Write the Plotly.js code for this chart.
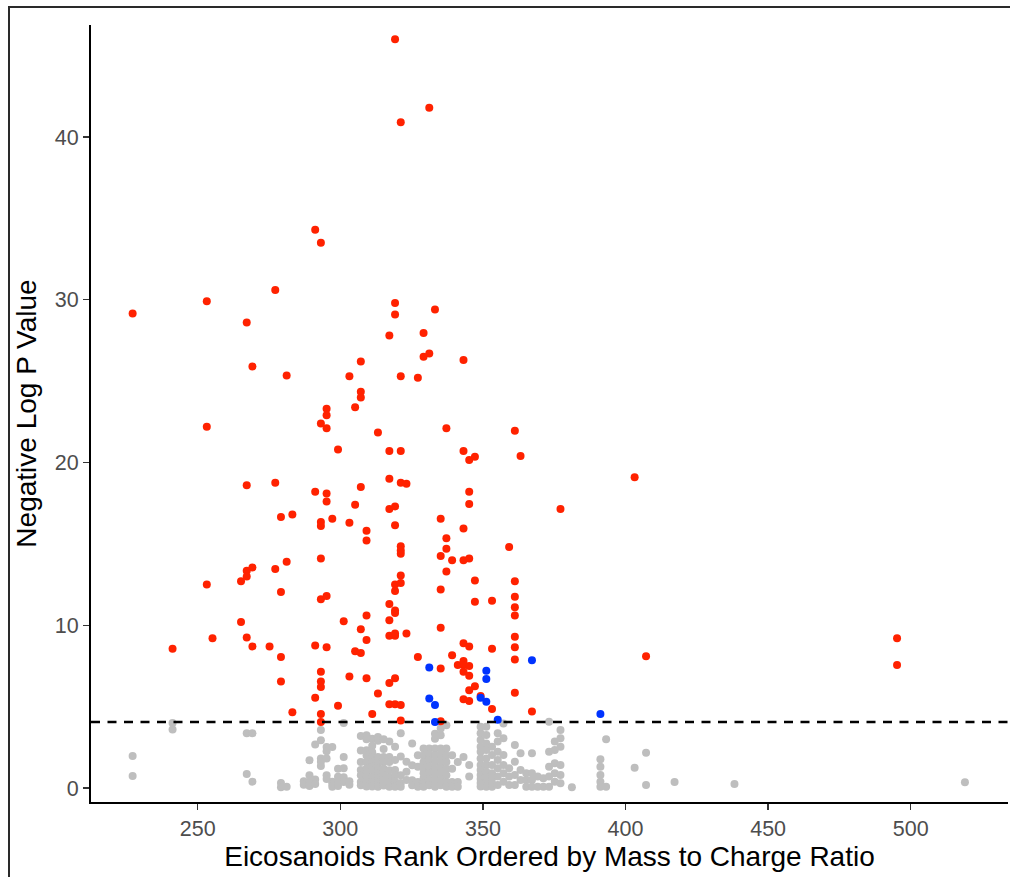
<!DOCTYPE html>
<html>
<head>
<meta charset="utf-8">
<script src="https://cdn.plot.ly/plotly-3.0.1.min.js"></script>
<style>
  html, body { margin: 0; padding: 0; background: #fff; }
  #wrap { position: relative; width: 1010px; height: 877px; }
  #chart { position: absolute; left: 0; top: 0; width: 1010px; height: 877px; }
  #frameL { position: absolute; left: 8px; top: 6px; width: 2px; height: 871px; background: #2a2a2a; }
  #frameT { position: absolute; left: 8px; top: 6px; width: 1002px; height: 2px; background: #2a2a2a; }
</style>
</head>
<body>
<div id="wrap">
  <div id="chart"></div>
  <div id="frameL"></div>
  <div id="frameT"></div>
</div>
<script>
// Significant (above threshold) eicosanoids
const redX = [319.2,321.2,331.2,291.2,293.2,277.2,253.2,227.2,319.2,319.2,333.2,267.2,329.2,317.2,331.2,329.2,343.2,307.2,269.2,281.2,
  303.2,321.2,327.2,307.2,307.2,305.2,295.2,295.2,253.2,293.2,295.2,313.2,337.2,361.2,299.2,317.2,321.2,343.2,345.2,347.2,
  363.2,403.2,267.2,277.2,317.2,321.2,323.2,291.2,295.2,307.2,345.2,295.2,305.2,317.2,319.2,345.2,377.2,279.2,283.2,297.2,
  293.2,293.2,303.2,319.2,335.2,343.2,309.2,309.2,337.2,337.2,321.2,321.2,321.2,359.2,335.2,339.2,343.2,345.2,293.2,281.2,
  267.2,269.2,267.2,265.2,277.2,337.2,321.2,253.2,319.2,321.2,347.2,361.2,335.2,279.2,319.2,293.2,295.2,361.2,347.2,353.2,
  317.2,361.2,319.2,319.2,361.2,265.2,301.2,309.2,317.2,335.2,307.2,255.2,267.2,309.2,317.2,319.2,319.2,323.2,361.2,495.2,
  241.2,269.2,275.2,291.2,295.2,305.2,307.2,343.2,345.2,353.2,361.2,279.2,327.2,339.2,361.2,407.2,341.2,343.2,343.2,345.2,
  495.2,335.2,343.2,293.2,345.2,303.2,309.2,319.2,279.2,293.2,317.2,347.2,293.2,345.2,361.2,313.2,349.2,291.2,343.2,345.2,
  317.2,319.2,321.2,299.2,353.2,367.2,283.2,293.2,311.2,335.2,293.2,321.2];
const redY = [46.0,40.9,41.8,34.3,33.5,30.6,29.9,29.15,29.8,29.1,29.4,28.6,27.95,27.8,26.7,26.5,26.3,26.2,25.9,25.35,
  25.3,25.3,25.2,24.35,24.0,23.4,23.3,22.9,22.2,22.4,22.1,21.85,22.1,21.95,20.8,20.7,20.7,20.7,20.15,20.35,
  20.4,19.1,18.6,18.75,19.0,18.75,18.7,18.2,18.1,18.5,18.2,17.6,17.4,17.15,17.3,17.45,17.15,16.65,16.8,16.55,
  16.35,16.1,16.3,16.15,16.55,15.95,15.8,15.2,15.35,14.7,14.85,14.6,14.4,14.8,14.25,14.0,14.0,14.1,14.1,13.9,
  13.35,13.55,13.0,12.7,13.45,13.3,13.05,12.5,12.5,12.6,12.75,12.7,12.2,12.05,12.1,11.6,11.8,11.75,11.45,11.5,
  11.3,11.1,10.9,10.75,10.6,10.2,10.25,10.6,10.3,9.85,9.75,9.2,9.25,9.1,9.35,9.35,9.5,9.5,9.3,9.2,
  8.55,8.7,8.7,8.75,8.65,8.4,8.3,8.9,8.7,8.55,8.65,8.05,8.05,8.15,7.9,8.1,7.55,7.8,7.55,7.5,
  7.55,7.35,7.15,7.15,6.9,6.85,6.75,6.75,6.55,6.55,6.45,6.25,6.2,6.0,5.85,5.8,5.65,5.55,5.45,5.35,
  5.15,5.15,5.1,5.05,4.85,4.7,4.65,4.55,4.55,4.1,4.05,4.15];

// Second group (blue)
const blueX = [331.2,351.2,351.2,367.2,331.2,333.2,333.2,349.2,351.2,355.2,391.2];
const blueY = [7.4,7.2,6.7,7.85,5.5,5.1,4.05,5.55,5.3,4.2,4.55];

// Non-significant (grey)
const grayX = [227.2,227.2,241.2,241.2,267.2,269.2,267.2,269.2,279.2,279.2,281.2,
  287.2,287.2,
  289.2,289.2,289.2,289.2,
  291.2,291.2,291.2,
  293.2,293.2,293.2,293.2,293.2,
  295.2,295.2,295.2,295.2,295.2,
  297.2,297.2,297.2,297.2,
  299.2,299.2,299.2,299.2,
  301.2,301.2,301.2,301.2,301.2,
  303.2,303.2,
  307.2,307.2,307.2,307.2,307.2,307.2,307.2,
  309.2,309.2,309.2,309.2,309.2,309.2,309.2,309.2,309.2,309.2,
  311.2,311.2,311.2,311.2,311.2,311.2,311.2,311.2,311.2,311.2,
  313.2,313.2,313.2,313.2,313.2,313.2,313.2,313.2,313.2,
  315.2,315.2,315.2,315.2,315.2,315.2,315.2,315.2,
  317.2,317.2,317.2,317.2,317.2,317.2,317.2,
  319.2,319.2,319.2,319.2,319.2,319.2,
  321.2,321.2,321.2,321.2,321.2,
  323.2,323.2,323.2,
  325.2,325.2,325.2,325.2,
  327.2,327.2,327.2,327.2,
  329.2,329.2,329.2,329.2,329.2,329.2,329.2,329.2,
  331.2,331.2,331.2,331.2,331.2,331.2,331.2,
  333.2,333.2,333.2,333.2,333.2,333.2,333.2,333.2,333.2,
  335.2,335.2,335.2,335.2,335.2,335.2,335.2,335.2,335.2,
  337.2,337.2,337.2,337.2,337.2,337.2,337.2,337.2,
  339.2,339.2,339.2,339.2,
  341.2,341.2,341.2,
  343.2,
  345.2,345.2,
  349.2,349.2,349.2,349.2,349.2,349.2,349.2,349.2,349.2,349.2,349.2,349.2,
  351.2,351.2,351.2,351.2,351.2,351.2,351.2,351.2,351.2,351.2,
  353.2,353.2,353.2,353.2,353.2,353.2,353.2,
  355.2,355.2,355.2,355.2,355.2,355.2,355.2,
  357.2,357.2,357.2,357.2,357.2,357.2,
  359.2,359.2,359.2,
  361.2,361.2,361.2,361.2,
  363.2,363.2,363.2,
  365.2,365.2,365.2,
  367.2,367.2,367.2,367.2,
  369.2,369.2,
  371.2,371.2,
  373.2,373.2,373.2,373.2,373.2,
  375.2,375.2,375.2,375.2,375.2,
  377.2,377.2,377.2,377.2,377.2,377.2,
  381.2,
  391.2,391.2,391.2,391.2,391.2,
  393.2,393.2,
  403.2,
  407.2,407.2,
  417.2,438.2,519.0];
const grayY = [1.97,0.74,4.0,3.6,3.36,3.36,0.86,0.39,0.3,0.05,0.08,
  0.41,0.2,
  1.7,0.78,0.39,0.12,
  2.67,0.53,0.25,
  3.56,2.93,1.81,1.62,1.35,
  2.52,2.26,1.81,0.78,0.55,
  2.52,0.39,0.25,0.08,
  1.19,0.69,0.39,0.12,
  4.0,1.9,1.21,0.66,0.37,
  0.41,0.2,
  3.2,2.3,1.6,1.1,0.78,0.37,0.17,
  3.24,3.0,2.32,2.0,1.6,1.2,0.9,0.68,0.37,0.1,
  3.03,2.6,2.2,1.9,1.6,1.3,1.09,0.68,0.37,0.1,
  3.13,2.9,1.91,1.5,1.19,0.9,0.6,0.35,0.08,
  3.0,2.4,1.91,1.6,1.19,0.8,0.47,0.15,
  2.85,1.91,1.6,1.09,0.68,0.37,0.08,
  2.54,1.72,1.11,0.78,0.4,0.08,
  3.36,1.93,0.78,0.3,0.08,
  1.62,1.0,0.49,
  2.73,1.4,0.47,0.17,
  2.01,1.31,0.37,0.08,
  2.42,2.0,1.6,1.2,0.9,0.6,0.3,0.08,
  2.42,2.1,1.7,1.3,0.9,0.5,0.17,
  3.34,3.03,2.42,2.0,1.6,1.19,0.78,0.37,0.08,
  3.65,3.24,2.42,2.1,1.7,1.3,0.9,0.5,0.17,
  3.85,2.42,2.0,1.6,1.19,0.78,0.37,0.08,
  2.01,1.19,0.37,0.08,
  1.6,0.37,0.08,
  1.91,
  1.41,0.7,
  3.77,3.36,2.95,2.54,2.23,1.82,1.41,1.11,0.8,0.55,0.3,0.1,
  3.77,3.26,2.74,2.33,1.82,1.41,1.0,0.65,0.35,0.08,
  2.54,2.03,1.41,0.9,0.6,0.3,0.08,
  3.36,2.85,2.23,1.72,1.21,0.7,0.18,
  3.97,3.05,2.03,1.41,0.9,0.39,
  1.21,0.7,0.18,
  2.64,1.62,0.8,0.18,
  2.13,1.11,0.49,
  0.9,0.49,0.08,
  2.13,0.9,0.49,0.08,
  0.7,0.08,
  0.6,0.08,
  4.07,2.23,1.31,0.7,0.08,
  2.85,2.33,1.52,0.9,0.39,
  3.56,3.05,2.54,1.41,0.8,0.29,
  0.04,
  1.76,1.31,0.8,0.39,0.08,
  2.99,0.08,
  1.25,
  2.17,0.18,
  0.37,0.25,0.35];

const threshold = 4.05;
const xTicks = [250,300,350,400,450,500];
const yTicks = [0,10,20,30,40];

const mk = (c) => ({ color: c, size: 8, line: { width: 0 } });
const traces = [
  { x: grayX, y: grayY, type: 'scatter', mode: 'markers', marker: mk('#BEBEBE'), hoverinfo: 'x+y' },
  { x: redX, y: redY, type: 'scatter', mode: 'markers', marker: mk('#FF2200'), hoverinfo: 'x+y' },
  { x: blueX, y: blueY, type: 'scatter', mode: 'markers', marker: mk('#0033FF'), hoverinfo: 'x+y' }
];

const layout = {
  width: 1010, height: 877,
  margin: { l: 91, r: 2, t: 25, b: 75, pad: 0 },
  paper_bgcolor: '#ffffff', plot_bgcolor: '#ffffff',
  showlegend: false,
  font: { family: 'Liberation Sans, Arial, sans-serif', color: '#4D4D4D' },
  xaxis: {
    range: [212.6, 534.1], tickvals: xTicks, ticktext: xTicks.map(String),
    showgrid: false, zeroline: false, showline: true, linecolor: '#000', linewidth: 2,
    ticks: 'outside', ticklen: 6, tickwidth: 1.5, tickcolor: '#333',
    tickfont: { size: 21.5, color: '#4D4D4D' },
    title: { text: 'Eicosanoids Rank Ordered by Mass to Charge Ratio', font: { size: 28, color: '#000' }, standoff: 6 }
  },
  yaxis: {
    range: [-0.86, 46.88], tickvals: yTicks, ticktext: yTicks.map(String),
    showgrid: false, zeroline: false, showline: true, linecolor: '#000', linewidth: 2,
    ticks: 'outside', ticklen: 6, tickwidth: 1.5, tickcolor: '#333',
    tickfont: { size: 21.5, color: '#4D4D4D' },
    title: { text: 'Negative Log P Value', font: { size: 28, color: '#000' }, standoff: 10 }
  },
  shapes: [
    { type: 'line', xref: 'paper', x0: 0, x1: 1, yref: 'y', y0: threshold, y1: threshold,
      line: { color: '#000', width: 2.5, dash: '9px,7.5px' }, layer: 'above' }
  ]
};

Plotly.newPlot('chart', traces, layout, { staticPlot: true });
</script>
</body>
</html>
